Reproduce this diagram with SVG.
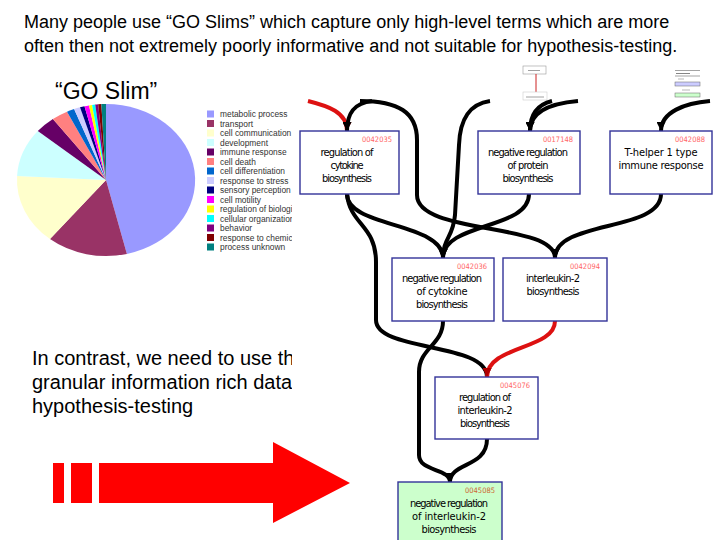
<svg xmlns="http://www.w3.org/2000/svg" width="720" height="540" viewBox="0 0 720 540">
<style>
.t{font-family:"Liberation Sans",Arial,sans-serif;fill:#000}
.lg{font-family:"Liberation Sans",Arial,sans-serif;font-size:8.4px;fill:#333}
.box{fill:#fff;stroke:#333399;stroke-width:1.4}
.nt{font-family:"DejaVu Sans Condensed","DejaVu Sans",sans-serif;font-size:11px;fill:#000;text-anchor:middle}
.id{font-family:"DejaVu Sans Condensed","DejaVu Sans",sans-serif;font-size:7.5px;fill:#FF6666;text-anchor:end}
.e{fill:none;stroke:#000;stroke-width:4;marker-end:url(#ab)}
.r{fill:none;stroke:#DD1111;stroke-width:4;marker-end:url(#ar)}
</style>
<defs>
<marker id="ab" markerUnits="userSpaceOnUse" markerWidth="9" markerHeight="9" viewBox="0 0 10 10" refX="10" refY="5" orient="auto"><path d="M0,0L10,5L0,10z" fill="#000"/></marker>
<marker id="ar" markerUnits="userSpaceOnUse" markerWidth="9" markerHeight="9" viewBox="0 0 10 10" refX="10" refY="5" orient="auto"><path d="M0,0L10,5L0,10z" fill="#B00000"/></marker>
</defs>
<rect width="720" height="540" fill="#fff"/>
<text class="t" x="24" y="28" font-size="18">Many people use “GO Slims” which capture only high-level terms which are more</text>
<text class="t" x="24" y="52" font-size="18">often then not extremely poorly informative and not suitable for hypothesis-testing.</text>
<text class="t" x="55" y="99" font-size="23">“GO Slim”</text>
<g id="pie">
<path d="M106,180L106,104A89,76 0 0 1 126.9,253.9Z" fill="#9999FF"/>
<path d="M106,180L126.9,253.9A89,76 0 0 1 50,239.1Z" fill="#993366"/>
<path d="M106,180L50,239.1A89,76 0 0 1 17.1,176Z" fill="#FFFFCC"/>
<path d="M106,180L17.1,176A89,76 0 0 1 37.8,131.1Z" fill="#CCFFFF"/>
<path d="M106,180L37.8,131.1A89,76 0 0 1 52.9,119Z" fill="#660066"/>
<path d="M106,180L52.9,119A89,76 0 0 1 67,111.7Z" fill="#FF8080"/>
<path d="M106,180L67,111.7A89,76 0 0 1 74.1,109Z" fill="#0066CC"/>
<path d="M106,180L74.1,109A89,76 0 0 1 80,107.3Z" fill="#CCCCFF"/>
<path d="M106,180L80,107.3A89,76 0 0 1 84.5,106.3Z" fill="#000080"/>
<path d="M106,180L84.5,106.3A89,76 0 0 1 89,105.4Z" fill="#FF00FF"/>
<path d="M106,180L89,105.4A89,76 0 0 1 92.1,104.9Z" fill="#FFFF00"/>
<path d="M106,180L92.1,104.9A89,76 0 0 1 95.2,104.6Z" fill="#00FFFF"/>
<path d="M106,180L95.2,104.6A89,76 0 0 1 98.2,104.3Z" fill="#800080"/>
<path d="M106,180L98.2,104.3A89,76 0 0 1 101.3,104.1Z" fill="#800000"/>
<path d="M106,180L101.3,104.1A89,76 0 0 1 106,104Z" fill="#008080"/>
</g>
<g id="legend">
<rect x="207" y="110.5" width="7" height="7" fill="#9999FF"/><text class="lg" x="220" y="117">metabolic process</text>
<rect x="207" y="120" width="7" height="7" fill="#993366"/><text class="lg" x="220" y="126.5">transport</text>
<rect x="207" y="129.5" width="7" height="7" fill="#FFFFCC"/><text class="lg" x="220" y="136">cell communication</text>
<rect x="207" y="139" width="7" height="7" fill="#CCFFFF"/><text class="lg" x="220" y="145.5">development</text>
<rect x="207" y="148.5" width="7" height="7" fill="#660066"/><text class="lg" x="220" y="155">immune response</text>
<rect x="207" y="158" width="7" height="7" fill="#FF8080"/><text class="lg" x="220" y="164.5">cell death</text>
<rect x="207" y="167.5" width="7" height="7" fill="#0066CC"/><text class="lg" x="220" y="174">cell differentiation</text>
<rect x="207" y="177" width="7" height="7" fill="#CCCCFF"/><text class="lg" x="220" y="183.5">response to stress</text>
<rect x="207" y="186.5" width="7" height="7" fill="#000080"/><text class="lg" x="220" y="193">sensory perception</text>
<rect x="207" y="196" width="7" height="7" fill="#FF00FF"/><text class="lg" x="220" y="202.5">cell motility</text>
<rect x="207" y="205.5" width="7" height="7" fill="#FFFF00"/><text class="lg" x="220" y="212">regulation of biologica</text>
<rect x="207" y="215" width="7" height="7" fill="#00FFFF"/><text class="lg" x="220" y="221.5">cellular organization a</text>
<rect x="207" y="224.5" width="7" height="7" fill="#800080"/><text class="lg" x="220" y="231">behavior</text>
<rect x="207" y="234" width="7" height="7" fill="#800000"/><text class="lg" x="220" y="240.5">response to chemica</text>
<rect x="207" y="243.5" width="7" height="7" fill="#008080"/><text class="lg" x="220" y="250">process unknown</text>
</g>
<text class="t" x="32" y="365" font-size="20">In contrast, we need to use th</text>
<text class="t" x="32" y="389" font-size="20">granular information rich data</text>
<text class="t" x="32" y="413" font-size="20">hypothesis-testing</text>
<rect x="292" y="60" width="428" height="480" fill="#fff"/>
<g id="mini">
<rect x="523" y="66" width="23" height="8" fill="#fff" stroke="#999" stroke-width="0.6"/>
<line x1="528" y1="70.5" x2="540" y2="70.5" stroke="#888" stroke-width="0.8"/>
<line x1="536" y1="74" x2="536" y2="93" stroke="#CC2222" stroke-width="1"/>
<rect x="523" y="92" width="24" height="8" fill="#fff" stroke="#ccc" stroke-width="0.6"/>
<line x1="526" y1="97" x2="544" y2="97" stroke="#888" stroke-width="0.8"/>
<line x1="675" y1="70.5" x2="700" y2="70.5" stroke="#666" stroke-width="0.6"/>
<line x1="676" y1="73.5" x2="690" y2="73.5" stroke="#666" stroke-width="0.8"/>
<line x1="675" y1="76" x2="700" y2="76" stroke="#666" stroke-width="0.6"/>
<line x1="678" y1="79" x2="684" y2="79" stroke="#888" stroke-width="0.6"/>
<rect x="675" y="82" width="25" height="4" fill="#CCCCFF" stroke="#666" stroke-width="0.5"/>
<line x1="682" y1="90" x2="690" y2="90" stroke="#888" stroke-width="0.6"/>
<rect x="675" y="93" width="25" height="4" fill="#CCFFCC" stroke="#666" stroke-width="0.5"/>
</g>
<g id="connectors">
<path class="r" d="M308,101C328,106 347,112 347,131"/>
<path class="e" d="M372,101C355,103 347,112 347,131"/>
<path class="e" d="M360,101C398,101 417,112 417,140L417,195C417,235 555,222 555,258"/>
<path class="e" d="M490,101C470,104 460,118 459,145L455,215C453,238 443,238 443,258"/>
<path class="e" d="M347,194C347,228 443,222 443,258"/>
<path class="e" d="M529,194C529,230 443,222 443,258"/>
<path class="e" d="M661,194C661,232 555,220 555,258"/>
<path class="e" d="M347,194C350,225 376,225 376,262L376,320C376,352 487,342 487,377"/>
<path class="r" d="M555,321C555,350 487,345 487,377"/>
<path class="e" d="M443,321C443,345 419,348 419,372L419,455C419,472 450,468 450,482"/>
<path class="e" d="M487,439C487,468 450,462 450,482"/>
<path class="e" d="M552,101C540,104 530,112 530,131"/>
<path class="e" d="M578,101C555,103 530,110 530,131"/>
<path class="e" d="M710,101C685,103 661,112 661,131"/>
</g>
<g id="n0042035">
<rect class="box" x="300" y="131" width="99" height="63"/>
<text class="id" x="392" y="142" textLength="30">0042035</text>
<text class="nt" x="347" y="156" textLength="53">regulation of</text>
<text class="nt" x="347" y="169" textLength="33">cytokine</text>
<text class="nt" x="347" y="182" textLength="50">biosynthesis</text>
</g>
<g id="n0017148">
<rect class="box" x="478" y="131" width="102" height="63"/>
<text class="id" x="573" y="142" textLength="30">0017148</text>
<text class="nt" x="528" y="156" textLength="80">negative regulation</text>
<text class="nt" x="528" y="169" textLength="41">of protein</text>
<text class="nt" x="528" y="182" textLength="51">biosynthesis</text>
</g>
<g id="n0042088">
<rect class="box" x="610" y="131" width="102" height="63"/>
<text class="id" x="705" y="142" textLength="30">0042088</text>
<text class="nt" x="661" y="156" textLength="73">T-helper 1 type</text>
<text class="nt" x="661" y="169" textLength="85">immune response</text>
</g>
<g id="n0042036">
<rect class="box" x="392" y="258" width="102" height="63"/>
<text class="id" x="487" y="269" textLength="30">0042036</text>
<text class="nt" x="442" y="282" textLength="80">negative regulation</text>
<text class="nt" x="442" y="295" textLength="51">of cytokine</text>
<text class="nt" x="442" y="308" textLength="52">biosynthesis</text>
</g>
<g id="n0042094">
<rect class="box" x="503" y="258" width="104" height="63"/>
<text class="id" x="600" y="269" textLength="30">0042094</text>
<text class="nt" x="553" y="282" textLength="54">interleukin-2</text>
<text class="nt" x="553" y="295" textLength="53">biosynthesis</text>
</g>
<g id="n0045076">
<rect class="box" x="435" y="377" width="103" height="62"/>
<text class="id" x="530" y="388" textLength="30">0045076</text>
<text class="nt" x="485" y="401" textLength="52">regulation of</text>
<text class="nt" x="485" y="414" textLength="55">interleukin-2</text>
<text class="nt" x="485" y="427" textLength="50">biosynthesis</text>
</g>
<g id="n0045085">
<rect class="box" x="398" y="482" width="104" height="70" style="fill:#CCFFCC"/>
<text class="id" x="495" y="493" textLength="30" style="fill:#CC6633">0045085</text>
<text class="nt" x="449" y="507" textLength="78">negative regulation</text>
<text class="nt" x="449" y="520" textLength="74">of interleukin-2</text>
<text class="nt" x="449" y="533" textLength="55">biosynthesis</text>
</g>
<g id="arrow" fill="#FF0000">
<rect x="53" y="463" width="11" height="40"/>
<rect x="71" y="463" width="21" height="40"/>
<path d="M99,463H273V442L350,483L273,523V503H99Z"/>
</g>
</svg>
